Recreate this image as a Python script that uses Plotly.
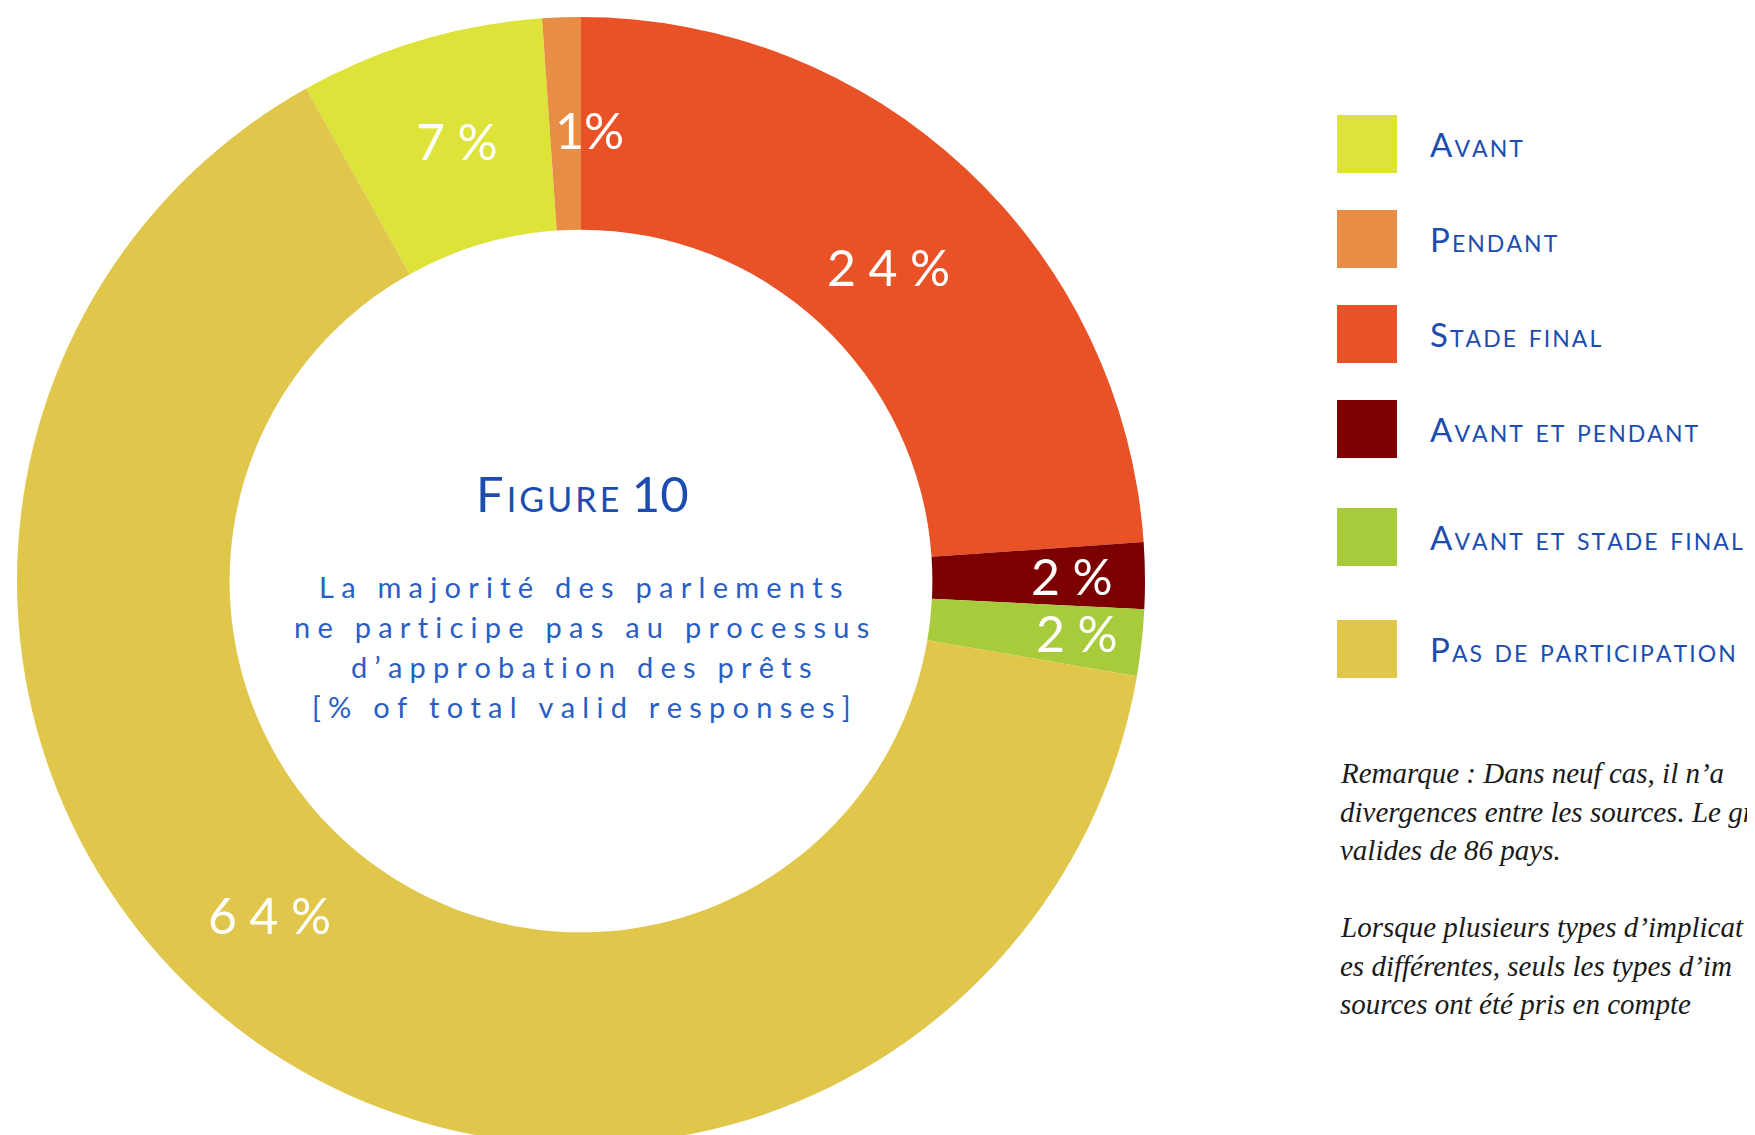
import numpy as np
import plotly.graph_objects as go

# figure size; the page body adds an 8px margin, so positions below are
# given in window pixels and shifted by OFF
W, H = 1755, 1145
OFF = 8

categories = ["Avant", "Pendant", "Stade final", "Avant et pendant",
              "Avant et stade final", "Pas de participation"]
# slice sizes as measured off the ring (labels are the rounded figures)
values = [7.0, 1.1, 23.9, 1.9, 1.9, 64.2]
pct_labels = ["7%", "1%", "24%", "2%", "2%", "64%"]

COLORS = ["#DDE339", "#E78D45", "#E85226", "#7D0000", "#A8CB3B", "#E0C74C"]

# where each % label sits: fraction of outer radius, angle nudge in degrees
LABEL_R = [0.81, 0.80, 0.78, 0.87, 0.885, 0.81]
LABEL_NUDGE = [0.8, 3.1, 1.4, 0.0, -0.3, 7.7]

# legend rows (pixel centre y)
LEGEND_Y = [144, 239, 334, 429, 537, 649]

BLUE_DARK = "#1C4DAE"
BLUE = "#2A5EC4"
SANS = "Lato, 'Open Sans', sans-serif"
SERIF = "'Liberation Serif', 'DejaVu Serif', serif"

NOTE_1 = ["Remarque : Dans neuf cas, il n’a",
          "divergences entre les sources. Le gr",
          "valides de 86 pays."]
NOTE_2 = ["Lorsque plusieurs types d’implicat",
          "es différentes, seuls les types d’im",
          "sources ont été pris en compte"]

SUBTITLE = ["La majorité des parlements",
            "ne participe pas au processus",
            "d’approbation des prêts",
            "[% of total valid responses]"]


def px(x):
    return (x - OFF) / W


def py(y):
    return 1 - (y - OFF) / H


def track(s, sp="\u2005"):
    return sp.join(list(s))


# pie placement (window pixels)
cx, cy, R = 581, 581, 564
total = sum(values)
# start the first slice (Avant) so that "Stade final" begins at 12 o'clock
rotation = -360 * (values[0] + values[1]) / total

fig = go.Figure(go.Pie(
    labels=categories,
    values=values,
    sort=False,
    direction="clockwise",
    rotation=rotation,
    hole=0.623,
    marker=dict(colors=COLORS, line=dict(width=0)),
    textinfo="none",
    showlegend=False,
    domain=dict(x=[px(cx - R), px(cx + R)], y=[py(cy + R), py(cy - R)]),
))

annotations = []

# percentage labels, placed at the slice mid-angle
cum = np.cumsum([0] + values)
for i, lab in enumerate(pct_labels):
    mid = rotation + 360 * (cum[i] + cum[i + 1]) / 2 / total + LABEL_NUDGE[i]
    a = np.deg2rad(mid)
    r = LABEL_R[i] * R
    x = cx + r * np.sin(a)
    y = cy - r * np.cos(a)
    annotations.append(dict(
        x=px(x), y=py(y), xref="paper", yref="paper",
        text=lab if lab == "1%" else track(lab),
        showarrow=False, xanchor="center", yanchor="middle",
        font=dict(family=SANS, size=50, color="white"),
    ))

# centre text
annotations.append(dict(
    x=px(582), y=py(493), xref="paper", yref="paper",
    text=track("Figure", "\u200a") + " 10", showarrow=False,
    xanchor="center", yanchor="middle",
    font=dict(family=SANS, size=49, color=BLUE_DARK, variant="small-caps"),
))
for i, line in enumerate(SUBTITLE):
    annotations.append(dict(
        x=px(581), y=py(586 + 40 * i), xref="paper", yref="paper",
        text=track(line), showarrow=False, xanchor="center", yanchor="middle",
        font=dict(family=SANS, size=29, color=BLUE),
    ))

# legend
shapes = []
for cat, col, yc in zip(categories, COLORS, LEGEND_Y):
    shapes.append(dict(
        type="rect", xref="paper", yref="paper",
        x0=px(1337), x1=px(1397), y0=py(yc + 29), y1=py(yc - 29),
        fillcolor=col, line=dict(width=0),
    ))
    annotations.append(dict(
        x=px(1428), y=py(yc), xref="paper", yref="paper",
        text=track(cat, "\u200a"), showarrow=False, xanchor="left", yanchor="middle",
        font=dict(family=SANS, size=33, color=BLUE_DARK, variant="small-caps"),
    ))

# notes
for block, y0 in ((NOTE_1, 773), (NOTE_2, 927)):
    for j, line in enumerate(block):
        annotations.append(dict(
            x=px(1338), y=py(y0 + 38.5 * j), xref="paper", yref="paper",
            text=line, showarrow=False, xanchor="left", yanchor="middle",
            font=dict(family=SERIF, size=29, color="#1a1a1a", style="italic"),
        ))

fig.update_layout(
    width=W, height=H,
    margin=dict(t=0, b=0, l=0, r=0),
    paper_bgcolor="white",
    plot_bgcolor="white",
    shapes=shapes,
    annotations=annotations,
)

fig.write_html("out.html")
